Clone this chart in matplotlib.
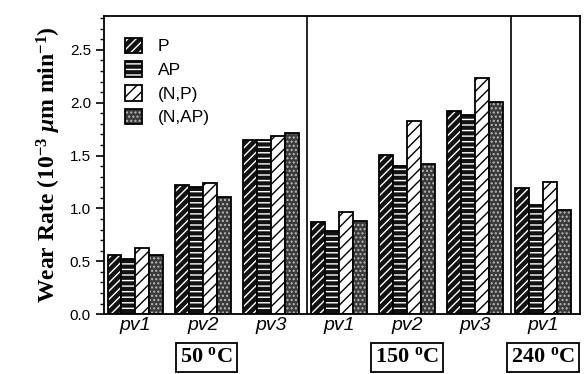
import numpy as np
import matplotlib.pyplot as plt
from matplotlib.ticker import MultipleLocator
from matplotlib.patches import Patch

# ===== DONNÉES =====
groups = ["pv1", "pv2", "pv3", "pv1", "pv2", "pv3", "pv1"]
temps = ["50", "150", "240"]
series = ["P", "AP", "(N,P)", "(N,AP)"]
p_vals = [0.56, 1.22, 1.645, 0.87, 1.51, 1.92, 1.19]
ap_vals = [0.52, 1.20, 1.65, 0.79, 1.40, 1.88, 1.035]
np_vals = [0.63, 1.24, 1.69, 0.97, 1.83, 2.23, 1.25]
nap_vals = [0.56, 1.11, 1.71, 0.88, 1.42, 2.01, 0.99]
# ===================

plt.rcParams['hatch.linewidth'] = 1.0
plt.rcParams['mathtext.fontset'] = 'custom'
plt.rcParams['mathtext.rm'] = 'Liberation Serif:bold'
plt.rcParams['mathtext.bf'] = 'Liberation Serif:bold'
plt.rcParams['mathtext.it'] = 'Liberation Serif:italic:bold'

fig = plt.figure(figsize=(5.85, 3.74), dpi=100)
ax = fig.add_axes([0.178, 0.160, 0.813, 0.797])

x = np.arange(len(groups))
w = 0.205
styles = [
    dict(face="#111111", hatch="////", hc="white"),
    dict(face="#111111", hatch="---", hc="white"),
    dict(face="white", hatch="///", hc="black"),
    dict(face="#3a3a3a", hatch="....", hc="#bbbbbb"),
]
data = [p_vals, ap_vals, np_vals, nap_vals]

for i, (vals, st) in enumerate(zip(data, styles)):
    xs = x + (i - 1.5) * w
    ax.bar(xs, vals, w, color=st["face"], hatch=st["hatch"],
           edgecolor=st["hc"], linewidth=0)
    ax.bar(xs, vals, w, fill=False, edgecolor="black", linewidth=1.3)

# légende
handles = []
for st in styles:
    h1 = Patch(facecolor=st["face"], hatch=st["hatch"], edgecolor=st["hc"], linewidth=0)
    h2 = Patch(fill=False, edgecolor="black", linewidth=1.3)
    handles.append((h1, h2))
leg = ax.legend(handles, series, loc="upper left", frameon=False,
                prop=dict(family="Liberation Sans", size=12.5),
                handlelength=1.0, handleheight=1.0, handletextpad=0.9,
                labelspacing=0.4, bbox_to_anchor=(0.01, 0.98))

ax.axvline(2.52, color="black", lw=1.2)
ax.axvline(5.53, color="black", lw=1.2)

ax.set_xlim(-0.46, 6.54)
ax.set_ylim(0, 2.82)
ax.set_xticks(x)
ax.set_xticklabels(groups, fontstyle="italic", family="Liberation Sans", fontsize=14)
ax.tick_params(axis="x", length=0, pad=2)
ax.yaxis.set_major_locator(MultipleLocator(0.5))
ax.yaxis.set_minor_locator(MultipleLocator(0.1))
ax.set_yticks(np.arange(0, 2.6, 0.5))
ax.set_yticklabels([f"{v:.1f}" for v in np.arange(0, 2.6, 0.5)],
                   family="Liberation Sans", fontsize=11)
ax.tick_params(axis="y", which="major", length=6, width=1.2, direction="out")
ax.tick_params(axis="y", which="minor", length=3, width=1, direction="out")
for s in ax.spines.values():
    s.set_linewidth(1.3)

ax.set_ylabel(r"Wear Rate (10$^{-3}$ $\mathit{\mu}$m min$^{-1}$)", family="Liberation Serif",
              fontweight="bold", fontsize=17, labelpad=5)

# boîtes de température
for xc, t in zip([1.05, 4.0, 6.0], temps):
    ax.text(xc, -0.145, t + r" $^{\rm o}$C", transform=ax.get_xaxis_transform(),
            ha="center", va="center", family="Liberation Serif", fontweight="bold",
            fontsize=16, clip_on=False,
            bbox=dict(boxstyle="square,pad=0.2", fc="white", ec="black", lw=1.3))

fig.savefig("out.png", dpi=100)
